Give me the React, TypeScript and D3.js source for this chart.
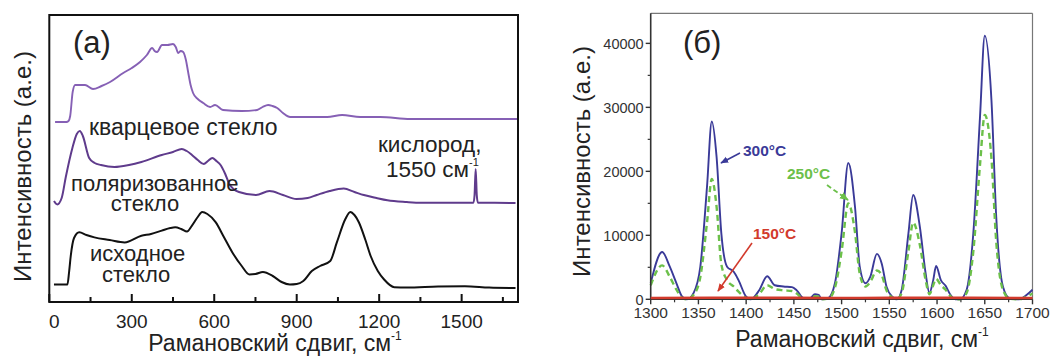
import React from "react";
import * as d3 from "d3";

// ---------- Panel (a) data: Raman shift (cm^-1) and relative intensity (a.u., offset stacks) ----------
const quartzX = [21, 62, 70, 76, 85, 94, 130, 159, 190, 221, 269, 300, 330, 355, 374, 383, 392, 410, 430, 450, 460, 469, 478, 487, 497, 505, 514, 523, 540, 560, 585, 603, 632, 700, 756, 776, 796, 812, 829, 850, 876, 950, 1011, 1065, 1131, 1204, 1313, 1450, 1600, 1703];
const quartzY = [180, 180, 181, 186, 210, 217, 217, 213, 216, 220, 229, 234, 240, 247, 254, 251, 250, 257, 257, 258, 255, 249, 251, 250, 242, 230, 217, 209, 203, 199, 195, 197, 192, 191, 192, 195, 197, 196, 194, 189, 185, 185, 185, 187, 185, 185, 183, 183, 183, 183];

const polarX = [17, 29, 45, 60, 84, 100, 111, 122, 145, 165, 188, 237, 290, 335, 409, 450, 482, 500, 519, 540, 562, 577, 593, 608, 623, 640, 654, 670, 690, 752, 801, 850, 899, 940, 973, 1020, 1071, 1110, 1144, 1190, 1230, 1300, 1353, 1450, 1543, 1547, 1551, 1555, 1559, 1620, 1696];
const polarY = [101, 97.6, 104, 125, 154, 168, 171, 166, 144, 139, 137, 135, 137, 140, 147, 150, 153, 151, 147, 142, 138, 141, 144, 141, 137, 128, 118.5, 113, 110, 107, 111, 107, 103, 104, 107, 111, 113.4, 110, 107, 104, 101.7, 100, 99.3, 99.3, 99.3, 107, 133, 107, 99.3, 99.2, 99];

const origX = [17, 66, 72, 78, 90, 109, 135, 164, 220, 274, 335, 370, 409, 440, 458, 480, 501, 519, 540, 556, 575, 605, 635, 666, 700, 728, 750, 777, 813, 845, 875, 900, 924, 955, 985, 1022, 1046, 1077, 1095, 1110, 1126, 1150, 1169, 1195, 1218, 1255, 1300, 1414, 1512, 1600, 1696];
const origY = [17.5, 17.5, 30, 46, 64, 69.7, 67, 64.6, 62, 59.6, 66.3, 68, 71.4, 74, 74.7, 73, 70.4, 76.4, 85, 89.9, 88, 79.8, 65, 49.5, 36, 27.6, 28, 30, 26, 20, 17.5, 18, 21, 31, 36, 41, 59.6, 83, 90, 87, 79.8, 62, 46, 31, 22.5, 14.8, 14.5, 15.5, 15.8, 14.5, 14];

const leftTicks = [0, 150, 300, 450, 600, 750, 900, 1050, 1200, 1350, 1500, 1650];
const leftTickLabels = [0, 300, 600, 900, 1200, 1500];

// ---------- Panel (б) data ----------
const ramanX = [1300, 1312, 1320, 1327, 1333, 1338, 1345, 1352, 1359, 1364, 1369, 1374, 1380, 1387, 1392, 1400, 1405, 1414, 1422, 1430, 1439, 1448, 1453, 1460, 1467, 1472, 1476, 1479, 1486, 1493, 1500, 1507, 1514, 1519, 1525, 1530, 1537, 1542, 1547, 1553, 1558, 1563, 1570, 1575, 1582, 1588, 1592, 1596, 1599, 1604, 1609, 1614, 1619, 1624, 1631, 1638, 1645, 1650, 1657, 1662, 1669, 1676, 1686, 1694, 1700];
const t300 = [2500, 7400, 5100, 2500, 400, 0, 1000, 5100, 17600, 27800, 22300, 10300, 5100, 4300, 3000, 400, 0, 1500, 3600, 2200, 2000, 1900, 1400, 200, 200, 800, 700, 0, 200, 2500, 10300, 21300, 14500, 5100, 2500, 3500, 7100, 5600, 2000, 400, 0, 1500, 10300, 16300, 11300, 4100, 1000, 3000, 5200, 3000, 2100, 700, 0, 0, 1500, 10300, 28500, 41200, 31100, 12900, 2000, 150, 0, 700, 1500];
const t250 = [2200, 5300, 3500, 1500, 200, 0, 700, 3500, 12000, 18800, 14500, 5500, 3000, 2000, 1200, 200, 0, 900, 2200, 1600, 1400, 1300, 900, 100, 100, 500, 400, 0, 100, 1800, 7500, 15000, 10500, 4000, 2000, 2700, 4500, 3800, 1400, 300, 0, 1000, 7500, 12000, 8500, 3000, 800, 2200, 3200, 2200, 1500, 500, 0, 0, 1000, 7500, 21000, 28800, 22000, 9000, 1500, 100, 0, 400, 900];
const x150 = [1300, 1400, 1500, 1600, 1700];
const t150 = [200, 250, 200, 250, 200];

const rightXTicks = [1300, 1350, 1400, 1450, 1500, 1550, 1600, 1650, 1700];
const rightXMinor = [1325, 1375, 1425, 1475, 1525, 1575, 1625, 1675];
const rightYTicks = [0, 10000, 20000, 30000, 40000];
const rightYMinor = [5000, 15000, 25000, 35000];

const FONT = "'Liberation Sans', Arial, sans-serif";

export default function App() {
  // Panel (a) scales
  const xa = d3.scaleLinear().domain([0, 1705]).range([49.3, 518]);
  const ya = d3.scaleLinear().domain([0, 287]).range([302, 15]);
  const lineA = (xs: number[], ys: number[]) =>
    d3.line<number>().x((_, i) => xa(xs[i])).y((d) => ya(d)).curve(d3.curveMonotoneX)(ys) || "";

  // Panel (б) scales
  const xb = d3.scaleLinear().domain([1300, 1700]).range([650.7, 1032.5]);
  const yb = d3.scaleLinear().domain([0, 44700]).range([299.3, 13.3]);
  const lineB = (xs: number[], ys: number[]) =>
    d3.line<number>().x((_, i) => xb(xs[i])).y((d) => yb(d)).curve(d3.curveMonotoneX)(ys) || "";

  const blue = "#3a3a98";
  const green = "#6cc04a";
  const red = "#d23a2c";

  return (
    <svg width={1050} height={356} style={{ position: "absolute", left: 0, top: 0, background: "#fff" }} fontFamily={FONT}>
      <defs>
        <marker id="arrBlue" viewBox="0 0 10 10" refX="9" refY="5" markerWidth="5" markerHeight="5" orient="auto">
          <path d="M0,1 L10,5 L0,9 z" fill={blue} />
        </marker>
        <marker id="arrGreen" viewBox="0 0 10 10" refX="9" refY="5" markerWidth="5" markerHeight="5" orient="auto">
          <path d="M0,1 L10,5 L0,9 z" fill={green} />
        </marker>
        <marker id="arrRed" viewBox="0 0 10 10" refX="9" refY="5" markerWidth="5" markerHeight="5" orient="auto">
          <path d="M0,1 L10,5 L0,9 z" fill={red} />
        </marker>
      </defs>

      {/* ================= Panel (a) ================= */}
      <g>
        <path d={lineA(origX, origY)} fill="none" stroke="#111" strokeWidth={2} />
        <path d={lineA(polarX, polarY)} fill="none" stroke="#5f3b8c" strokeWidth={2} />
        <path d={lineA(quartzX, quartzY)} fill="none" stroke="#8660b5" strokeWidth={1.9} />
        <rect x={xa(0)} y={ya(287)} width={xa(1705) - xa(0)} height={ya(0) - ya(287)} fill="none" stroke="#111" strokeWidth={2} />
        {leftTicks.map((t) => (
          <line key={t} x1={xa(t)} x2={xa(t)} y1={ya(0)} y2={ya(0) - (t % 300 === 0 ? 8 : 5)} stroke="#111" strokeWidth={2} />
        ))}
        {leftTickLabels.map((t) => (
          <text key={t} x={xa(t) + (t === 0 ? 5 : 0)} y={328} fontSize={19} textAnchor="middle" fill="#222">
            {t}
          </text>
        ))}
        <text x={275} y={351} fontSize={23} textAnchor="middle" fill="#222">
          Рамановский сдвиг, см<tspan fontSize={12} dy={-11}>-1</tspan>
        </text>
        <text transform="translate(31,166.5) rotate(-90)" fontSize={24} textAnchor="middle" fill="#222">
          Интенсивность (а.е.)
        </text>
        <text x={73} y={53} fontSize={31} fill="#222">(a)</text>
        <text x={89} y={135} fontSize={23} fill="#222">кварцевое стекло</text>
        <text x={378} y={152} fontSize={22.5} fill="#222">кислород,</text>
        <text x={386} y={177} fontSize={22.5} fill="#222">
          1550 см<tspan fontSize={11} dy={-11}>-1</tspan>
        </text>
        <text x={71} y={191} fontSize={22} fill="#222">поляризованное</text>
        <text x={145} y={211} fontSize={22} fill="#222" textAnchor="middle">стекло</text>
        <text x={90} y={261} fontSize={22} fill="#222">исходное</text>
        <text x={102} y={282} fontSize={22} fill="#222">стекло</text>
      </g>

      {/* ================= Panel (б) ================= */}
      <g>
        {/* top/right frame */}
        <line x1={xb(1300)} x2={xb(1700)} y1={yb(44700)} y2={yb(44700)} stroke="#777" strokeWidth={1.2} />
        <line x1={xb(1700)} x2={xb(1700)} y1={yb(44700)} y2={yb(0)} stroke="#777" strokeWidth={1.2} />
        <path d={lineB(ramanX, t300)} fill="none" stroke={blue} strokeWidth={1.9} />
        <path d={lineB(ramanX, t250)} fill="none" stroke={green} strokeWidth={2.4} strokeDasharray="6,4" />
        {/* axes */}
        <line x1={xb(1300)} x2={xb(1300)} y1={yb(44700)} y2={yb(0)} stroke="#333" strokeWidth={1.6} />
        <line x1={xb(1300)} x2={xb(1700)} y1={yb(0)} y2={yb(0)} stroke="#333" strokeWidth={1.6} />
        <path d={lineB(x150, t150)} fill="none" stroke={red} strokeWidth={2.6} />
        {rightYTicks.map((t) => (
          <g key={t}>
            <line x1={xb(1300) - 5} x2={xb(1300)} y1={yb(t)} y2={yb(t)} stroke="#333" strokeWidth={1.4} />
            <text x={xb(1300) - 7} y={yb(t) + 5.2} fontSize={14.5} textAnchor="end" fill="#333">{t}</text>
          </g>
        ))}
        {rightYMinor.map((t) => (
          <line key={t} x1={xb(1300) - 3} x2={xb(1300)} y1={yb(t)} y2={yb(t)} stroke="#333" strokeWidth={1.2} />
        ))}
        {rightXTicks.map((t) => (
          <g key={t}>
            <line x1={xb(t)} x2={xb(t)} y1={yb(0)} y2={yb(0) + 5} stroke="#333" strokeWidth={1.4} />
            <text x={xb(t)} y={318} fontSize={15.5} textAnchor="middle" fill="#333">{t}</text>
          </g>
        ))}
        {rightXMinor.map((t) => (
          <line key={t} x1={xb(t)} x2={xb(t)} y1={yb(0)} y2={yb(0) + 3} stroke="#333" strokeWidth={1.2} />
        ))}
        <text x={862} y={346.5} fontSize={23} textAnchor="middle" fill="#222">
          Рамановский сдвиг, см<tspan fontSize={12} dy={-11}>-1</tspan>
        </text>
        <text transform="translate(590,161.5) rotate(-90)" fontSize={24} textAnchor="middle" fill="#222">
          Интенсивность (а.е.)
        </text>
        <text x={683} y={53} fontSize={31} fill="#222">(б)</text>

        {/* annotations */}
        <text x={743} y={155.5} fontSize={15.5} fontWeight="bold" fill={blue}>300°C</text>
        <line x1={740} y1={153} x2={721} y2={163} stroke={blue} strokeWidth={1.6} markerEnd="url(#arrBlue)" />
        <text x={787} y={178.5} fontSize={15.5} fontWeight="bold" fill={green}>250°C</text>
        <line x1={827} y1={185} x2={848} y2={200} stroke={green} strokeWidth={1.8} strokeDasharray="5,3" markerEnd="url(#arrGreen)" />
        <text x={753} y={238.5} fontSize={15.5} fontWeight="bold" fill={red}>150°C</text>
        <line x1={752} y1={243} x2={718} y2={291} stroke={red} strokeWidth={1.6} markerEnd="url(#arrRed)" />
      </g>
    </svg>
  );
}
